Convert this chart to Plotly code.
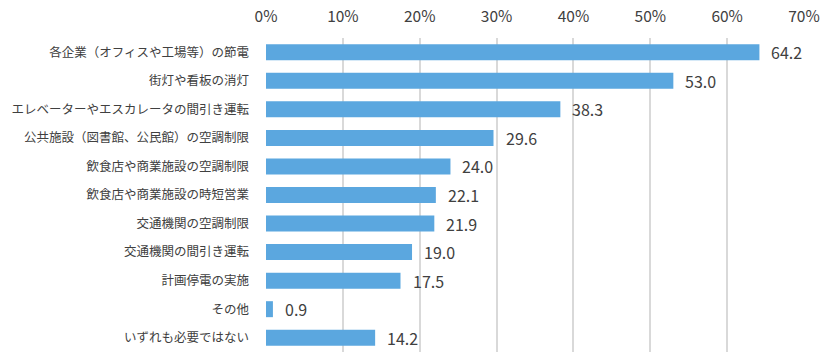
import plotly.graph_objects as go

categories = [
    "各企業（オフィスや工場等）の節電",
    "街灯や看板の消灯",
    "エレベーターやエスカレータの間引き運転",
    "公共施設（図書館、公民館）の空調制限",
    "飲食店や商業施設の空調制限",
    "飲食店や商業施設の時短営業",
    "交通機関の空調制限",
    "交通機関の間引き運転",
    "計画停電の実施",
    "その他",
    "いずれも必要ではない",
]
values = [64.2, 53.0, 38.3, 29.6, 24.0, 22.1, 21.9, 19.0, 17.5, 0.9, 14.2]
tick_vals = [0, 10, 20, 30, 40, 50, 60, 70]
tick_text = ["0%", "10%", "20%", "30%", "40%", "50%", "60%", "70%"]

FONT = "Noto Sans CJK JP"
TXT = "#404040"

fig = go.Figure()
fig.add_trace(go.Bar(
    x=values, y=categories, orientation="h",
    marker=dict(color="#5BA7DF", line=dict(width=0)),
    hoverinfo="skip",
))
for c, v in zip(categories, values):
    fig.add_annotation(x=v, y=c, text=f"{v:.1f}", showarrow=False,
                       xanchor="left", xshift=10,
                       font=dict(family=FONT, size=16, color=TXT))

fig.update_layout(
    width=831, height=362,
    margin=dict(l=266, r=27, t=38, b=10),
    plot_bgcolor="white", paper_bgcolor="white",
    bargap=0.44, showlegend=False,
    font=dict(family=FONT, color=TXT),
)
fig.update_xaxes(
    side="top", range=[0, 70], tickvals=tick_vals, ticktext=tick_text,
    showgrid=True, gridcolor="#D9D9D9", gridwidth=1.5,
    zeroline=False, showline=False, ticks="", ticklen=0,
    tickfont=dict(family=FONT, size=15.5, color=TXT),
    automargin=False, ticklabelstandoff=12,
)
fig.update_yaxes(
    autorange="reversed", showgrid=False, zeroline=False, showline=False,
    ticks="", ticklabelstandoff=16, automargin=False,
    tickfont=dict(family=FONT, size=12.5, color=TXT),
)
fig.write_html(
    "out.html",
    config={"displayModeBar": False},
    post_script="document.body.style.margin='0';document.body.style.overflow='hidden';",
)
